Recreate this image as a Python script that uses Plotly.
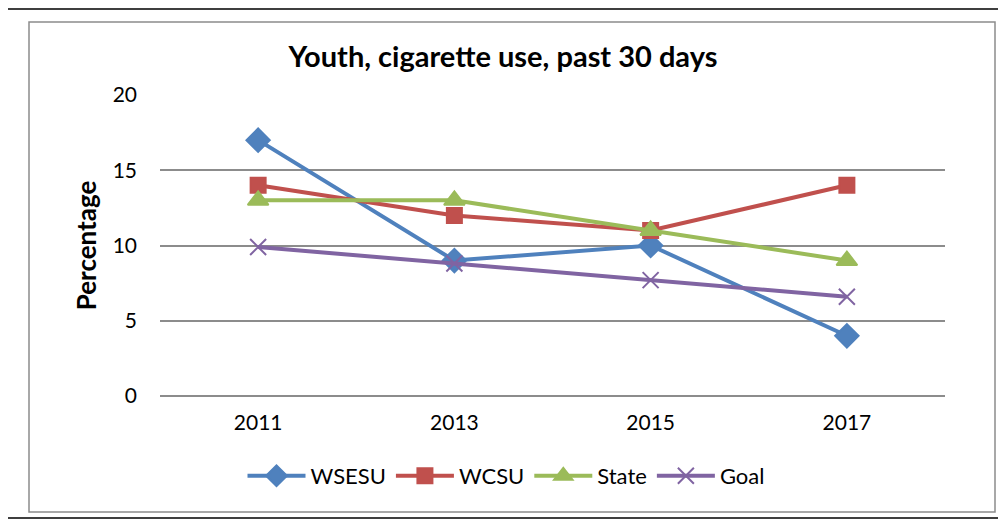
import plotly.graph_objects as go

years = ["2011", "2013", "2015", "2017"]
wsesu = [17, 9, 10, 4]
wcsu = [14, 12, 11, 14]
state = [13, 13, 11, 9]
goal = [9.9, 8.8, 7.7, 6.6]

# page body has an 8px margin; work in reference coordinates and shift
OFF = 8
W, H = 1006 - OFF, 519 - OFF
L, R, T, B = 160 - OFF, 945 - OFF, 95 - OFF, 396 - OFF

fig = go.Figure()
series = [
    ("WSESU", wsesu, "#4F81BD", "diamond", 18),
    ("WCSU", wcsu, "#C0504D", "square", 15),
    ("State", state, "#9BBB59", "triangle-up", 18),
    ("Goal", goal, "#8064A2", "x-thin", 16),
]
for name, vals, col, sym, sz in series:
    fig.add_trace(go.Scatter(
        x=years, y=vals, name=name, mode="lines+markers",
        line=dict(color=col, width=4),
        marker=dict(symbol=sym, size=sz, color=col,
                    line=dict(color=col, width=2)),
    ))

def px(x):
    return (x - OFF - L) / (R - L)

def py(y):
    return (B - (y - OFF)) / (B - T)

shapes = [
    dict(type="rect", xref="paper", yref="paper", x0=px(5), x1=px(1003), y0=py(518), y1=py(9),
         line=dict(color="black", width=1.5), fillcolor="rgba(0,0,0,0)"),
    dict(type="rect", xref="paper", yref="paper", x0=px(29), x1=px(995), y0=py(512), y1=py(22),
         line=dict(color="#8c8c8c", width=1.5), fillcolor="rgba(0,0,0,0)"),
]

fig.update_layout(
    width=W, height=H,
    margin=dict(l=L, r=W - R, t=T, b=H - B),
    paper_bgcolor="white", plot_bgcolor="white",
    font=dict(family="Lato, Open Sans, sans-serif", color="black"),
    title=dict(text="<b>Youth, cigarette use, past 30 days</b>", x=px(503), xref="paper",
               xanchor="center", y=1 - (57 - OFF) / H, yanchor="middle",
               font=dict(size=29, color="black")),
    xaxis=dict(type="category", showgrid=False, showline=False, ticks="",
               tickfont=dict(size=21), range=[-0.5, 3.5], ticklabelstandoff=12),
    yaxis=dict(range=[0, 20], dtick=5, showgrid=True, gridcolor="#8c8c8c", gridwidth=1.5,
               zeroline=True, zerolinecolor="#8c8c8c", zerolinewidth=1.5,
               tickfont=dict(size=21), ticks="", ticklen=0, ticklabelstandoff=22,
               title=dict(text="<b>Percentage</b>", font=dict(size=26), standoff=8)),
    legend=dict(orientation="h", x=px(506), xanchor="center",
                y=-(476 - OFF - B) / (B - T), yanchor="middle",
                font=dict(size=22), tracegroupgap=0, itemwidth=58),
    shapes=shapes,
    showlegend=True,
)
fig.write_html("out.html")
